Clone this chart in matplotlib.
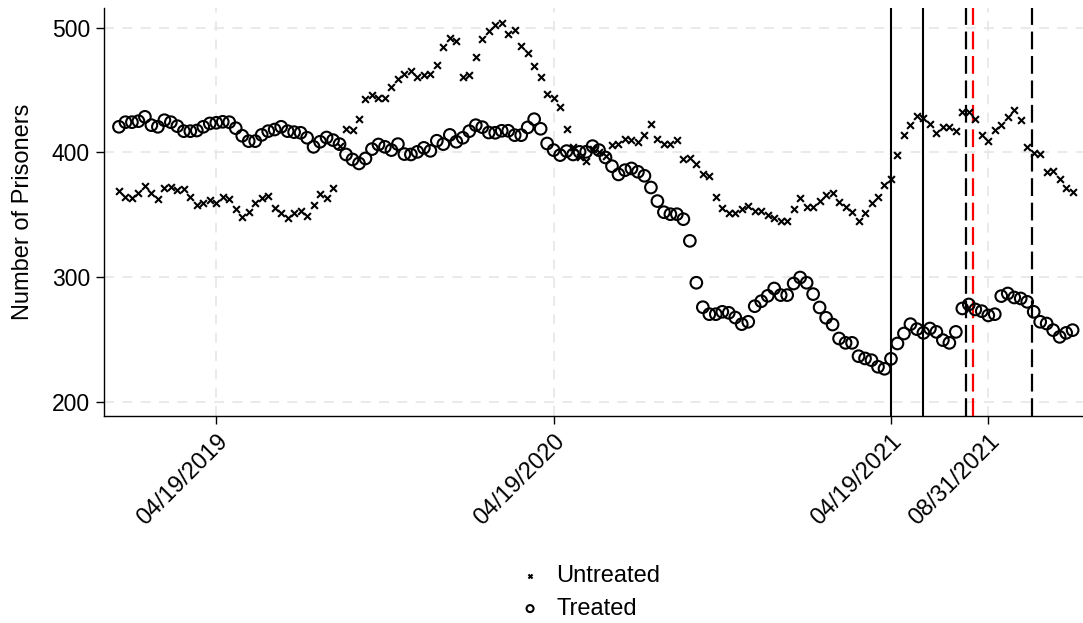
import numpy as np
import matplotlib
matplotlib.use("Agg")
import matplotlib.pyplot as plt

plt.rcParams['font.family'] = ['Liberation Sans', 'DejaVu Sans']

# weekly prisoner counts, one value per week
untreated = [
    369.3, 364.4, 363.4, 367.1, 373.0, 367.6, 362.3, 371.7, 372.2, 369.8,
    370.6, 364.4, 357.5, 359.4, 361.8, 359.1, 363.9, 362.8, 354.3, 348.4,
    352.1, 359.4, 363.4, 365.0, 355.6, 351.6, 347.3, 351.6, 353.2, 349.2,
    357.8, 366.8, 363.6, 371.4, 405.0, 418.7, 417.9, 427.0, 442.5, 446.0,
    443.9, 443.3, 452.7, 458.8, 462.8, 465.2, 460.7, 462.0, 462.8, 469.8,
    484.2, 492.2, 489.8, 460.7, 461.8, 476.7, 491.4, 497.6, 501.9, 503.5,
    495.2, 498.4, 485.8, 479.4, 469.3, 460.7, 446.8, 443.3, 436.6, 418.7,
    404.5, 396.5, 393.3, 403.0, 400.0, 397.0, 405.9, 406.7, 411.2, 409.9,
    408.0, 414.2, 422.7, 411.2, 406.7, 406.7, 410.4, 394.4, 395.2, 390.4,
    382.4, 381.0, 364.4, 355.1, 351.6, 351.6, 354.5, 357.2, 353.2, 352.9,
    349.7, 347.1, 345.2, 345.2, 354.5, 363.1, 356.4, 356.4, 361.2, 365.5,
    367.1, 360.4, 356.4, 351.9, 345.2, 351.6, 359.1, 363.9, 373.8, 379.1,
    397.9, 413.9, 421.9, 429.1, 427.3, 422.7, 416.0, 420.6, 420.6, 417.1,
    432.6, 432.6, 426.7, 413.9, 409.1, 418.4, 421.9, 428.1, 434.0, 425.9,
    404.0, 399.7, 398.7, 384.0, 385.3, 378.6, 371.9, 367.9,
]
treated = [
    420.6, 424.3, 424.3, 425.1, 428.6, 421.9, 420.6, 425.9, 424.3, 421.1,
    417.1, 417.1, 417.6, 420.6, 423.3, 423.8, 424.6, 424.3, 419.5, 413.4,
    409.1, 409.1, 414.1, 417.1, 418.4, 420.6, 417.1, 416.3, 415.8, 411.8,
    404.5, 408.6, 412.0, 409.9, 406.7, 398.4, 394.4, 391.2, 395.2, 402.7,
    406.4, 404.5, 401.9, 406.7, 398.7, 398.4, 400.5, 403.7, 401.3, 409.4,
    406.7, 414.1, 408.6, 411.8, 417.1, 421.9, 420.3, 416.0, 415.8, 417.4,
    417.4, 413.9, 413.9, 420.1, 426.7, 419.0, 407.2, 401.9, 397.9, 401.1,
    398.4, 400.5, 400.5, 405.1, 401.9, 396.0, 389.0, 382.4, 385.8, 387.2,
    384.5, 381.3, 371.9, 361.0, 352.1, 350.5, 350.5, 346.5, 329.1, 295.5,
    275.9, 270.3, 270.3, 272.2, 271.4, 267.6, 262.3, 264.2, 276.7, 280.7,
    285.0, 290.9, 285.6, 285.6, 294.9, 299.7, 295.5, 286.4, 275.7, 267.4,
    262.0, 250.8, 247.3, 247.3, 236.6, 234.8, 233.4, 228.1, 226.5, 234.5,
    246.8, 254.8, 262.3, 258.3, 255.3, 258.8, 256.1, 249.5, 247.3, 256.1,
    274.9, 278.1, 274.1, 272.7, 269.3, 270.3, 284.8, 286.9, 283.7, 282.9,
    280.2, 272.2, 264.2, 262.8, 257.5, 252.1, 255.3, 257.5,
]
week = np.arange(len(treated))

tick_weeks = [15, 67, 119, 134]
tick_labels = ['04/19/2019', '04/19/2020', '04/19/2021', '08/31/2021']

solid_events = [119, 124]
dashed_events = [130.5, 140.7]
red_event = 131.6

fig = plt.figure(figsize=(10.83, 6.23), dpi=100)
ax = fig.add_axes([0.096, 0.332, 0.904, 0.655])

ax.set_axisbelow(True)
ax.grid(True, color='#e6e6e6', linestyle=(0, (6, 5)), linewidth=1.2)

for xv in solid_events:
    ax.axvline(xv, color='black', linewidth=1.5)
for xv in dashed_events:
    ax.axvline(xv, color='black', linewidth=1.6, linestyle=(0, (8, 3)))
ax.axvline(red_event, color='red', linewidth=1.6, linestyle=(0, (8, 3)))

ax.scatter(week, untreated, marker='x', s=24, color='black', linewidths=1.5,
           label='Untreated', zorder=3)
ax.scatter(week, treated, marker='o', s=70, facecolors='none',
           edgecolors='black', linewidths=1.5, label='Treated', zorder=3)

ax.set_xlim(-2.31, 148.6)
ax.set_ylim(188.5, 515.8)
ax.set_yticks([200, 300, 400, 500])
ax.set_xticks(tick_weeks)
ax.set_xticklabels(tick_labels, rotation=45, ha='right', rotation_mode='anchor')
ax.tick_params(axis='x', labelsize=17, length=6, width=1, direction='out', pad=4)
ax.tick_params(axis='y', labelsize=16.5, length=6, width=1, direction='out', pad=4)
ax.set_ylabel('Number of Prisoners', fontsize=17, labelpad=13)

for side in ['top', 'right']:
    ax.spines[side].set_visible(False)
for side in ['left', 'bottom']:
    ax.spines[side].set_linewidth(1.0)

fig.legend(loc='center', bbox_to_anchor=(0.544, 0.049), ncol=1, frameon=False,
           fontsize=17, handlelength=1.0, handletextpad=0.6, labelspacing=0.45,
           markerscale=0.6)

fig.savefig('out.png', dpi=100)
